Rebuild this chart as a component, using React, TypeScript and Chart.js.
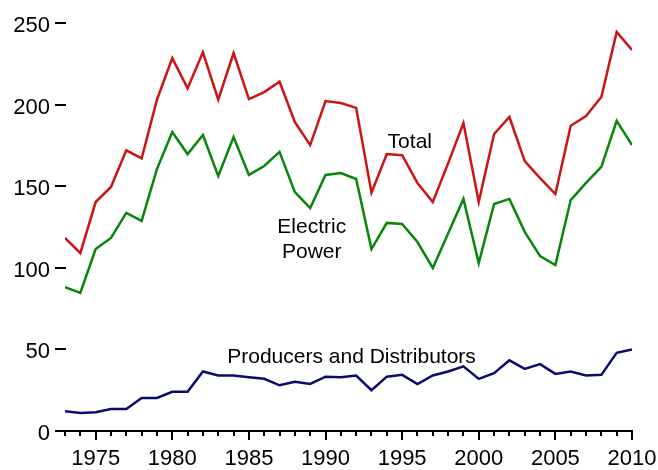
import React, { useEffect, useRef } from "react";
import { Chart, registerables } from "chart.js";

Chart.register(...registerables);

const years = [
  1973, 1974, 1975, 1976, 1977, 1978, 1979, 1980, 1981, 1982,
  1983, 1984, 1985, 1986, 1987, 1988, 1989, 1990, 1991, 1992,
  1993, 1994, 1995, 1996, 1997, 1998, 1999, 2000, 2001, 2002,
  2003, 2004, 2005, 2006, 2007, 2008, 2009, 2010,
];

const total = [
  118.3, 109, 140.3, 149.5, 172, 167, 203, 228.5, 210, 232,
  203, 231.6, 203.4, 207.7, 214, 189.3, 175.2, 202.2, 201, 198,
  146, 169.7, 169, 152, 140.3, 164, 188.7, 140.3, 182, 192.4,
  165.4, 155, 145.2, 187, 193, 204.7, 244.5, 233.5,
];

const electricPower = [
  88.2, 84.6, 111.5, 118.3, 133.6, 128.7, 160.5, 183.2, 169.7, 181.4,
  156.2, 180.1, 156.9, 162.4, 171, 146.4, 136.6, 156.9, 158.1, 154.4,
  111.5, 127.5, 126.8, 115.8, 99.9, 121, 142.2, 102.9, 139.1, 142.2,
  122, 107.2, 101.7, 141.5, 152, 161.8, 190, 175.2,
];

const producersDistributors = [
  12.1, 11, 11.5, 13.5, 13.5, 20.2, 20.2, 24, 24, 36.5,
  34, 34, 33, 32, 28, 30.2, 28.8, 33.3, 33, 34,
  25, 33.3, 34.4, 28.8, 34, 36.5, 39.6, 31.9, 35.4, 43.3,
  38.1, 41, 35, 36.5, 34, 34.4, 47.9, 50,
];

const xTickLabels = [1975, 1980, 1985, 1990, 1995, 2000, 2005, 2010];
const yTickValues = [0, 50, 100, 150, 200, 250];

const annotationTexts = ["Total", "Electric", "Power", "Producers and Distributors"];
const annotationYears = [1995.5, 1989.1, 1989.1, 1991.7];
const annotationValues = [173.4, 121.3, 106, 41.9];

const FONT = "Liberation Sans, Arial, Helvetica, sans-serif";

const axesPlugin = {
  id: "customAxes",
  afterDraw(chart: any) {
    const ctx = chart.ctx as CanvasRenderingContext2D;
    const xs = chart.scales.x;
    const ys = chart.scales.y;
    const y0 = Math.round(ys.getPixelForValue(0));
    const firstX = xs.getPixelForValue(years[0]);
    const lastX = Math.round(xs.getPixelForValue(years[years.length - 1]));
    const axisLeft = Math.round(firstX - 10);

    ctx.save();
    ctx.strokeStyle = "#000";
    ctx.fillStyle = "#000";
    ctx.lineWidth = 2;
    ctx.lineCap = "butt";

    // x axis line
    ctx.beginPath();
    ctx.moveTo(axisLeft, y0);
    ctx.lineTo(lastX + 1, y0);
    ctx.stroke();

    // year ticks
    years.forEach((yr) => {
      const px = Math.round(xs.getPixelForValue(yr));
      const major = xTickLabels.includes(yr);
      ctx.beginPath();
      ctx.moveTo(px, y0);
      ctx.lineTo(px, y0 + (major ? 9 : 5));
      ctx.stroke();
    });

    // x labels
    ctx.font = `22px ${FONT}`;
    ctx.textAlign = "center";
    ctx.textBaseline = "alphabetic";
    xTickLabels.forEach((yr) => {
      const px = xs.getPixelForValue(yr);
      ctx.fillText(String(yr), px, y0 + 34);
    });

    // y ticks and labels
    ctx.textAlign = "right";
    yTickValues.forEach((v) => {
      const py = Math.round(ys.getPixelForValue(v));
      ctx.beginPath();
      ctx.moveTo(axisLeft, py);
      ctx.lineTo(axisLeft + 11, py);
      ctx.stroke();
      ctx.fillText(String(v), axisLeft - 5, py + 8.5);
    });

    // annotations
    ctx.font = `21px ${FONT}`;
    ctx.textAlign = "center";
    annotationTexts.forEach((t, i) => {
      const px = xs.getPixelForValue(annotationYears[i]);
      const py = ys.getPixelForValue(annotationValues[i]);
      ctx.fillText(t, px, py);
    });

    ctx.restore();
  },
};

export default function App() {
  const canvasRef = useRef<HTMLCanvasElement | null>(null);

  useEffect(() => {
    document.body.style.margin = "0";
    const canvas = canvasRef.current;
    if (!canvas) return;
    const chart = new Chart(canvas, {
      type: "line",
      data: {
        labels: years,
        datasets: [
          {
            label: "Total",
            data: years.map((x, i) => ({ x, y: total[i] })),
            borderColor: "#cc1414",
            borderWidth: 2.5,
            pointRadius: 0,
            tension: 0,
            fill: false,
          },
          {
            label: "Electric Power",
            data: years.map((x, i) => ({ x, y: electricPower[i] })),
            borderColor: "#078707",
            borderWidth: 2.5,
            pointRadius: 0,
            tension: 0,
            fill: false,
          },
          {
            label: "Producers and Distributors",
            data: years.map((x, i) => ({ x, y: producersDistributors[i] })),
            borderColor: "#0b0b6e",
            borderWidth: 2.5,
            pointRadius: 0,
            tension: 0,
            fill: false,
          },
        ],
      },
      options: {
        responsive: false,
        animation: false,
        devicePixelRatio: 1,
        layout: { padding: { left: 65, right: 26, top: 23, bottom: 39 } },
        plugins: {
          legend: { display: false },
          tooltip: { enabled: false },
        },
        scales: {
          x: { type: "linear", min: 1973, max: 2010, display: false },
          y: { type: "linear", min: 0, max: 250, display: false },
        },
      },
      plugins: [axesPlugin],
    });
    return () => chart.destroy();
  }, []);

  return (
    <div style={{ position: "absolute", left: 0, top: 0, width: 658, height: 470, background: "#fff" }}>
      <canvas ref={canvasRef} width={658} height={470} />
    </div>
  );
}
